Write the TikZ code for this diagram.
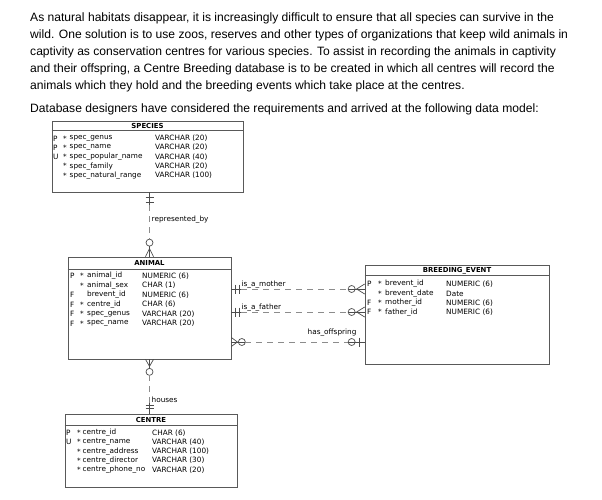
\documentclass[tikz,border=0pt]{standalone}
\usepackage{fontspec}
\setmainfont{Liberation Sans}
\newfontfamily\erdfont{DejaVu Sans}
\usetikzlibrary{calc}
\tikzset{
  entitybox/.style={draw=black!65,line width=0.7pt,inner sep=0pt},
  entitytitle/.style={font=\erdfont\bfseries\fontsize{6.9}{8}\selectfont,inner sep=0pt},
  attrtext/.style={font=\erdfont\fontsize{7.3}{8}\selectfont,anchor=west,inner sep=0pt},
  paratext/.style={font=\fontsize{12.1}{14}\selectfont,anchor=west,inner sep=0pt},
  reldash/.style={draw=black!45,dash pattern=on 6pt off 5pt,line width=0.7pt},
  relmark/.style={draw=black!70,line width=0.7pt},
  rellabel/.style={font=\erdfont\fontsize{7.3}{8}\selectfont,inner sep=0pt}
}

\begin{document}
\begin{tikzpicture}[x=1pt,y=-1pt]
  \useasboundingbox (0,0) rectangle (602,500);

  % intro text
  \node[paratext] (para1) at (30,18.5) {As natural habitats disappear, it is increasingly difficult to ensure that all species can survive in the};
  \node[paratext] (para2) at (30,35.5) {wild. One solution is to use zoos, reserves and other types of organizations that keep wild animals in};
  \node[paratext] (para3) at (30,52.5) {captivity as conservation centres for various species. To assist in recording the animals in captivity};
  \node[paratext] (para4) at (30,69.5) {and their offspring, a Centre Breeding database is to be created in which all centres will record the};
  \node[paratext] (para5) at (30,86.5) {animals which they hold and the breeding events which take place at the centres.};
  \node[paratext] (para6) at (30,109.5) {Database designers have considered the requirements and arrived at the following data model:};

  % entities
  \node[entitybox,minimum width=191pt,minimum height=71pt] (species) at (147.5,156.5) {};
  \node[entitytitle] (speciestitle) at ($(species.north)+(0,5.5)$) {SPECIES};
  \draw[entitybox] ($(species.north west)+(0,10)$) -- ($(species.north east)+(0,10)$);
  \foreach \key/\st/\nm/\ty [count=\i from 0] in {P/*/spec\_genus/VARCHAR (20),
      P/*/spec\_name/VARCHAR (20), U/*/spec\_popular\_name/VARCHAR (40),
      {}/*/spec\_family/VARCHAR (20), {}/*/spec\_natural\_range/VARCHAR (100)}{
    \node[attrtext] (sp-k\i) at (53,138.5+9.2*\i) {\key};
    \node[attrtext] (sp-s\i) at (63,138.5+9.2*\i) {\st};
    \node[attrtext] (sp-n\i) at (69.5,138.5+9.2*\i) {\nm};
    \node[attrtext] (sp-t\i) at (155,138.5+9.2*\i) {\ty};
  }

  \node[entitybox,minimum width=163pt,minimum height=102pt] (animal) at (149.5,308) {};
  \node[entitytitle] (animaltitle) at ($(animal.north)+(0,6.5)$) {ANIMAL};
  \draw[entitybox] ($(animal.north west)+(0,12.5)$) -- ($(animal.north east)+(0,12.5)$);
  \foreach \key/\st/\nm/\ty [count=\i from 0] in {P/*/animal\_id/NUMERIC (6),
      {}/*/animal\_sex/CHAR (1), F/{}/brevent\_id/NUMERIC (6), F/*/centre\_id/CHAR (6),
      F/*/spec\_genus/VARCHAR (20), F/*/spec\_name/VARCHAR (20)}{
    \node[attrtext] (an-k\i) at (70,276+9.5*\i) {\key};
    \node[attrtext] (an-s\i) at (80,276+9.5*\i) {\st};
    \node[attrtext] (an-n\i) at (87,276+9.5*\i) {\nm};
    \node[attrtext] (an-t\i) at (142,276+9.5*\i) {\ty};
  }

  \node[entitybox,minimum width=184pt,minimum height=99pt] (brevent) at (457,314.5) {};
  \node[entitytitle] (breventtitle) at ($(brevent.north)+(0,6)$) {BREEDING\_EVENT};
  \draw[entitybox] ($(brevent.north west)+(0,11)$) -- ($(brevent.north east)+(0,11)$);
  \foreach \key/\st/\nm/\ty [count=\i from 0] in {P/*/brevent\_id/NUMERIC (6),
      {}/*/brevent\_date/Date, F/*/mother\_id/NUMERIC (6), F/*/father\_id/NUMERIC (6)}{
    \node[attrtext] (be-k\i) at (367,284+9.4*\i) {\key};
    \node[attrtext] (be-s\i) at (378,284+9.4*\i) {\st};
    \node[attrtext] (be-n\i) at (385,284+9.4*\i) {\nm};
    \node[attrtext] (be-t\i) at (446,284+9.4*\i) {\ty};
  }

  \node[entitybox,minimum width=172pt,minimum height=73pt] (centre) at (151,450.5) {};
  \node[entitytitle] (centretitle) at ($(centre.north)+(0,6.5)$) {CENTRE};
  \draw[entitybox] ($(centre.north west)+(0,12)$) -- ($(centre.north east)+(0,12)$);
  \foreach \key/\st/\nm/\ty [count=\i from 0] in {P/*/centre\_id/CHAR (6),
      U/*/centre\_name/VARCHAR (40), {}/*/centre\_address/VARCHAR (100),
      {}/*/centre\_director/VARCHAR (30), {}/*/centre\_phone\_no/VARCHAR (20)}{
    \node[attrtext] (ce-k\i) at (66,433+9.2*\i) {\key};
    \node[attrtext] (ce-s\i) at (77,433+9.2*\i) {\st};
    \node[attrtext] (ce-n\i) at (82.5,433+9.2*\i) {\nm};
    \node[attrtext] (ce-t\i) at (152,433+9.2*\i) {\ty};
  }

  % represented_by
  \coordinate (rbs) at (species.south -| animal.north);
  \coordinate (rba) at (animal.north);
  \draw[relmark] (rbs) -- ($(rbs)+(0,13)$);
  \draw[relmark] ($(rbs)+(-4,5)$) -- ($(rbs)+(4,5)$);
  \draw[relmark] ($(rbs)+(-4,10)$) -- ($(rbs)+(4,10)$);
  \draw[reldash] ($(rbs)+(0,13)$) -- ($(rba)+(0,-17.5)$);
  \draw[relmark] ($(rba)+(0,-14)$) circle[radius=3.5pt];
  \draw[relmark] ($(rba)+(0,-10.5)$) -- (rba);
  \draw[relmark] ($(rba)+(-4,0)$) -- ($(rba)+(0,-8)$) -- ($(rba)+(4,0)$);
  \node[rellabel,anchor=west] (rblabel) at ($(rbs)+(2,27)$) {represented\_by};

  % is_a_mother
  \coordinate (ma) at (animal.east |- 0,289);
  \coordinate (mb) at (brevent.west |- ma);
  \draw[relmark] (ma) -- ($(ma)+(10,0)$);
  \draw[relmark] ($(ma)+(4,-4.5)$) -- ($(ma)+(4,4.5)$);
  \draw[relmark] ($(ma)+(8,-4.5)$) -- ($(ma)+(8,4.5)$);
  \draw[reldash] ($(ma)+(10,0)$) -- ($(mb)+(-17,0)$);
  \draw[relmark] ($(mb)+(-17,0)$) -- (mb);
  \draw[relmark] ($(mb)+(-13,0)$) circle[radius=3.5pt];
  \draw[relmark] ($(mb)+(0,-5)$) -- ($(mb)+(-8,0)$) -- ($(mb)+(0,5)$);
  \node[rellabel,anchor=base west] (motherlabel) at ($(ma)+(10,-3)$) {is\_a\_mother};

  % is_a_father
  \coordinate (fa) at (animal.east |- 0,312);
  \coordinate (fb) at (brevent.west |- fa);
  \draw[relmark] (fa) -- ($(fa)+(10,0)$);
  \draw[relmark] ($(fa)+(4,-4.5)$) -- ($(fa)+(4,4.5)$);
  \draw[relmark] ($(fa)+(8,-4.5)$) -- ($(fa)+(8,4.5)$);
  \draw[reldash] ($(fa)+(10,0)$) -- ($(fb)+(-17,0)$);
  \draw[relmark] ($(fb)+(-17,0)$) -- (fb);
  \draw[relmark] ($(fb)+(-13,0)$) circle[radius=3.5pt];
  \draw[relmark] ($(fb)+(0,-5)$) -- ($(fb)+(-8,0)$) -- ($(fb)+(0,5)$);
  \node[rellabel,anchor=base west] (fatherlabel) at ($(fa)+(10,-3)$) {is\_a\_father};

  % has_offspring
  \coordinate (oa) at (animal.east |- 0,342);
  \coordinate (ob) at (brevent.west |- oa);
  \draw[relmark] (oa) -- ($(oa)+(14,0)$);
  \draw[relmark] ($(oa)+(0,-4.5)$) -- ($(oa)+(6,0)$) -- ($(oa)+(0,4.5)$);
  \draw[relmark] ($(oa)+(10.5,0)$) circle[radius=3.5pt];
  \draw[reldash] ($(oa)+(14,0)$) -- ($(ob)+(-17,0)$);
  \draw[relmark] ($(ob)+(-17,0)$) -- (ob);
  \draw[relmark] ($(ob)+(-13,0)$) circle[radius=3.5pt];
  \draw[relmark] ($(ob)+(-5,-4.5)$) -- ($(ob)+(-5,4.5)$);
  \node[rellabel,anchor=base east] (offlabel) at ($(ob)+(-8,-8)$) {has\_offspring};

  % houses
  \coordinate (ha) at (animal.south);
  \coordinate (hc) at (centre.north -| ha);
  \draw[relmark] (ha) -- ($(ha)+(0,9)$);
  \draw[relmark] ($(ha)+(-4,0)$) -- ($(ha)+(0,7)$) -- ($(ha)+(4,0)$);
  \draw[relmark] ($(ha)+(0,12.5)$) circle[radius=3.5pt];
  \draw[reldash] ($(ha)+(0,16)$) -- ($(hc)+(0,-11)$);
  \draw[relmark] ($(hc)+(0,-11)$) -- (hc);
  \draw[relmark] ($(hc)+(-4,-8)$) -- ($(hc)+(4,-8)$);
  \draw[relmark] ($(hc)+(-4,-5)$) -- ($(hc)+(4,-5)$);
  \node[rellabel,anchor=west] (houselabel) at ($(ha)+(2,40)$) {houses};
\end{tikzpicture}
\end{document}
